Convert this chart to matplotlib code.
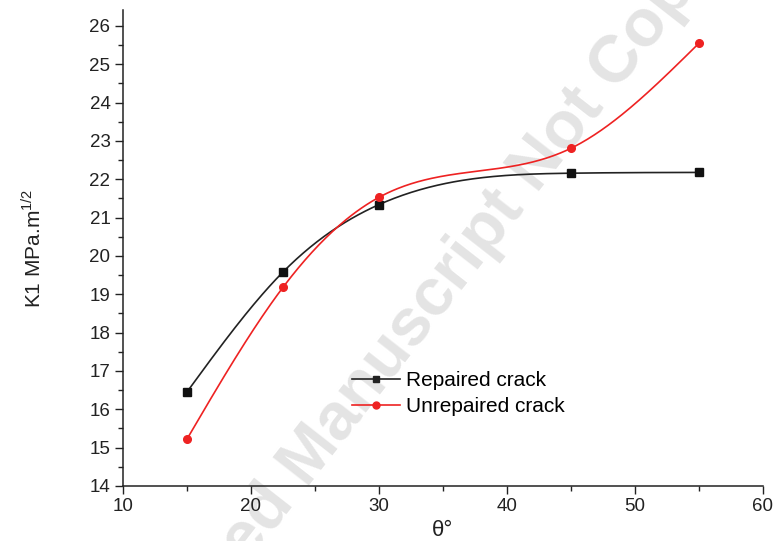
import numpy as np
import matplotlib
matplotlib.use("Agg")
import matplotlib.pyplot as plt
from matplotlib.ticker import MultipleLocator

theta = [15, 22.5, 30, 45, 55]
repaired = [16.45, 19.58, 21.34, 22.16, 22.18]
unrepaired = [15.22, 19.18, 21.53, 22.81, 25.55]


def natural_spline(x, y, n=300):
    # plain natural cubic spline, like Origin's "spline" connector
    x = np.asarray(x, float)
    y = np.asarray(y, float)
    k = len(x)
    h = np.diff(x)
    A = np.zeros((k, k))
    r = np.zeros(k)
    A[0, 0] = A[-1, -1] = 1
    for i in range(1, k - 1):
        A[i, i - 1] = h[i - 1]
        A[i, i] = 2 * (h[i - 1] + h[i])
        A[i, i + 1] = h[i]
        r[i] = 3 * ((y[i + 1] - y[i]) / h[i] - (y[i] - y[i - 1]) / h[i - 1])
    c = np.linalg.solve(A, r)
    xs = np.linspace(x[0], x[-1], n)
    idx = np.clip(np.searchsorted(x, xs) - 1, 0, k - 2)
    dx = xs - x[idx]
    b = (y[1:] - y[:-1]) / h - h * (2 * c[:-1] + c[1:]) / 3
    d = (c[1:] - c[:-1]) / (3 * h)
    ys = y[idx] + b[idx] * dx + c[idx] * dx ** 2 + d[idx] * dx ** 3
    return xs, ys


plt.rcParams['font.family'] = ['Liberation Sans', 'DejaVu Sans']
plt.rcParams['mathtext.fontset'] = 'custom'
plt.rcParams['mathtext.rm'] = 'Liberation Sans'

fig = plt.figure(figsize=(7.73, 5.41), dpi=100)
ax = fig.add_axes([0.159, 0.1017, 0.828, 0.88])

# watermark, kept behind the axes
fig.text(0.598, 0.515, "Accepted Manuscript Not Copyedited", rotation=52,
         ha='center', va='center', rotation_mode='anchor', fontsize=48,
         fontweight='bold', color='#e4e4e4', zorder=-5)
ax.set_facecolor('none')

xs, ys = natural_spline(theta, repaired)
ax.plot(xs, ys, color='#222222', lw=1.2)
ax.plot(theta, repaired, 's', color='#111111', ms=6)
xs, ys = natural_spline(theta, unrepaired)
ax.plot(xs, ys, color='#ee2222', lw=1.2)
ax.plot(theta, unrepaired, 'o', color='#ee2222', ms=5.5)

h1, = ax.plot([], [], '-s', color='#222222', lw=1.2, ms=5)
h2, = ax.plot([], [], '-o', color='#ee2222', lw=1.2, ms=5)
ax.legend([h1, h2], ['Repaired crack', 'Unrepaired crack'], frameon=False,
          loc='upper left', bbox_to_anchor=(352 / 773, 1 - 371 / 541),
          bbox_transform=fig.transFigure, fontsize=15, handlelength=2.3,
          handletextpad=0.3, labelspacing=0.35, borderpad=0, borderaxespad=0)

ax.set_xlim(10, 60)
ax.set_ylim(14, 26.42)
ax.xaxis.set_major_locator(MultipleLocator(10))
ax.xaxis.set_minor_locator(MultipleLocator(5))
ax.yaxis.set_major_locator(MultipleLocator(1))
ax.yaxis.set_minor_locator(MultipleLocator(0.5))
ax.set_yticks(np.arange(14, 27, 1))
ax.tick_params(which='major', length=6, width=1, labelsize=13.5,
               colors='#222222', pad=3)
ax.tick_params(which='minor', length=3.5, width=1, colors='#222222')
ax.spines['top'].set_visible(False)
ax.spines['right'].set_visible(False)
for s in ['left', 'bottom']:
    ax.spines[s].set_color('#222222')
    ax.spines[s].set_linewidth(1.1)

ax.set_xlabel('θ°', fontsize=16, labelpad=3, color='#222222')
ax.set_ylabel(r'K1 MPa.m$^{\mathrm{1/2}}$', fontsize=15, labelpad=32,
              color='#222222')

fig.savefig('out.png', dpi=100)
